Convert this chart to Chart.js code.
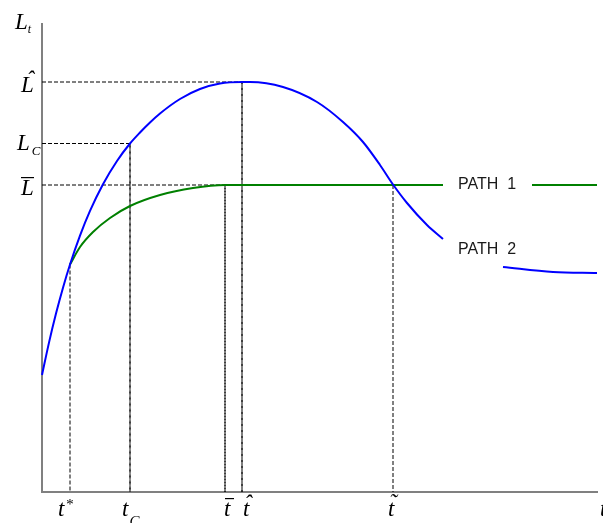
<!DOCTYPE html>
<html><head><meta charset="utf-8">
<script src="https://cdn.jsdelivr.net/npm/chart.js@4/dist/chart.umd.min.js"></script>
<style>html,body{margin:0;padding:0;background:#fff;overflow:hidden}#wrap{width:603px;height:523px}</style>
</head><body><div id="wrap"><canvas id="c" width="603" height="523"></canvas></div>
<script>
// ---- data (arbitrary time / level units) ----
const path1X = [2.8, 3.8, 5.1, 6.8, 8.8, 11.8, 15.1, 18.3, 40.1, 44.5, 49.0, 55.5];
const path1Y = [22.75, 24.5, 26.0, 27.4, 28.6, 29.7, 30.4, 30.7, 30.7, null, 30.7, 30.7];
const path2X = [0, 0.7, 1.4, 2.1, 2.8, 3.8, 4.8, 6.1, 7.5, 8.8, 9.8, 10.8, 11.8, 13.8, 15.8, 17.8, 20.0, 20.8, 24.1, 27.5, 30.1, 32.1, 33.8, 35.1, 36.5, 38.5, 40.1, 43.0, 46.1, 51.1, 55.5];
const path2Y = [11.7, 14.94, 17.84, 20.43, 22.75, 25.64, 28.11, 30.78, 33.1, 34.85, 35.95, 36.95, 37.85, 39.3, 40.3, 40.85, 41.0, 41.0, 40.5, 39.0, 37.0, 35.0, 32.7, 30.75, 28.9, 26.7, 25.3, null, 22.5, 22.0, 21.9];
const levelValues = [41.0, 34.85, 30.7];         // L-hat, L_C, L-bar
const levelTimes = [20.0, 8.8, 18.3];            // where each level is reached
const tickValues = [2.8, 8.8, 18.3, 20.0, 35.1]; // t*, t_C, t-bar, t-hat, t-tilde
const tickLevels = [22.75, 34.85, 30.7, 41.0, 30.7];
const yTickLabels = ['L\u0302', 'L_C', 'L\u0304'];
const xTickLabels = ['t^*', 't_C', 't\u0304', 't\u0302', 't\u0303'];
const yAxisTitle = 'L_t';
const xAxisTitle = 't';
const pathNames = ['PATH  1', 'PATH  2'];
const pathNameAt = [[41.6, 30.7], [41.6, 24.2]];

const pts = (xs, ys) => xs.map((x, i) => ({x, y: ys[i]}));
const dashed = (data) => ({data, borderColor: '#000', borderWidth: 1, borderDash: [4, 2], pointRadius: 0, tension: 0, order: 5, clip: false});

const datasets = [
  {label: 'Path 2', data: pts(path2X, path2Y), borderColor: '#0000ff', borderWidth: 2, pointRadius: 0, cubicInterpolationMode: 'monotone', spanGaps: false, order: 0, clip: false},
  {label: 'Path 1', data: pts(path1X, path1Y), borderColor: '#008000', borderWidth: 2, pointRadius: 0, cubicInterpolationMode: 'monotone', spanGaps: false, order: 1, clip: false}
];
levelValues.forEach((v, i) => datasets.push(dashed([{x: 0, y: v}, {x: levelTimes[i], y: v}, {x: levelTimes[i], y: 0}])));
tickValues.forEach((t, i) => datasets.push(dashed([{x: t, y: tickLevels[i]}, {x: t, y: 0}])));

const SERIF = s => `italic ${s}px "Liberation Serif", "Times New Roman", serif`;

function drawMath(ctx, label, left, baseline, o) {
  const base = label[0], rest = label.slice(1);
  ctx.font = SERIF(o.size);
  ctx.textAlign = 'left'; ctx.textBaseline = 'alphabetic';
  const m = ctx.measureText(base);
  const w = m.width;
  ctx.fillText(base, left, baseline);
  const top = baseline - m.actualBoundingBoxAscent;
  const cx = left + w * 0.5 + (o.markShift || 2);
  if (rest[0] === '_' || rest[0] === '^') {
    const s = rest.slice(1);
    ctx.font = SERIF(o.subSize);
    const dy = rest[0] === '_' ? o.subDy : o.supDy;
    ctx.fillText(s, left + w + o.subDx, baseline + dy);
  } else if (rest === '\u0304') {
    ctx.fillRect(left + (o.barFrom || 0), top - o.gap, o.barLen, 1.2);
  } else if (rest.length) {
    const ch = rest === '\u0302' ? '\u02C6' : '\u02DC';
    ctx.font = SERIF(o.size);
    const am = ctx.measureText(ch);
    const bottomTarget = top - o.gap;
    ctx.textAlign = 'center';
    ctx.fillText(ch, cx, bottomTarget - am.actualBoundingBoxDescent);
    ctx.textAlign = 'left';
  }
}

const labelPlugin = {
  id: 'mathLabels',
  afterDraw(chart, args, opts) {
    const {ctx, chartArea: a, scales: {x, y}} = chart;
    ctx.save();
    ctx.fillStyle = '#000';
    yTickLabels.forEach((lab, i) => {
      const py = y.getPixelForValue(levelValues[i]);
      drawMath(ctx, lab, opts.yLeft[i], py + opts.yDy[i], {size: 23, subSize: 13, subDx: 2, subDy: 5, gap: 3, barLen: 13, barFrom: 0, markShift: 3});
    });
    drawMath(ctx, yAxisTitle, opts.yTitleLeft, a.top + 5, {size: 23, subSize: 12, subDx: 0, subDy: 4});
    xTickLabels.forEach((lab, i) => {
      const px = x.getPixelForValue(tickValues[i]);
      drawMath(ctx, lab, px + opts.xDx[i], a.bottom + 24, {size: 23, subSize: 15, subDx: 1, subDy: 10, supDy: -7, gap: 4, barLen: 9, barFrom: 1, markShift: 2});
    });
    ctx.font = SERIF(23);
    ctx.fillText(xAxisTitle, opts.xTitleLeft, a.bottom + 24);
    ctx.font = '16px "Liberation Sans", Arial, sans-serif';
    ctx.fillStyle = '#1a1a1a';
    ctx.textBaseline = 'middle';
    pathNames.forEach((n, i) => {
      ctx.fillText(n, x.getPixelForValue(pathNameAt[i][0]), y.getPixelForValue(pathNameAt[i][1]));
    });
    ctx.restore();
  }
};

new Chart(document.getElementById('c'), {
  type: 'line',
  data: {datasets},
  options: {
    responsive: false, animation: false, events: [],
    layout: {padding: {left: 42, top: 24, right: 6, bottom: 31}},
    plugins: {
      legend: {display: false}, tooltip: {enabled: false},
      mathLabels: {yLeft: [21, 17, 21], yDy: [10, 6, 10], yTitleLeft: 15, xDx: [-12, -8, -1, 1, -5], xTitleLeft: 600}
    },
    scales: {
      x: {type: 'linear', min: 0, max: 55.5, ticks: {display: false}, grid: {display: false, drawTicks: false}, border: {display: true, color: '#808080', width: 2}},
      y: {type: 'linear', min: 0, max: 46.8, ticks: {display: false}, grid: {display: false, drawTicks: false}, border: {display: true, color: '#808080', width: 2}}
    }
  },
  plugins: [labelPlugin]
});
</script>
</body></html>
